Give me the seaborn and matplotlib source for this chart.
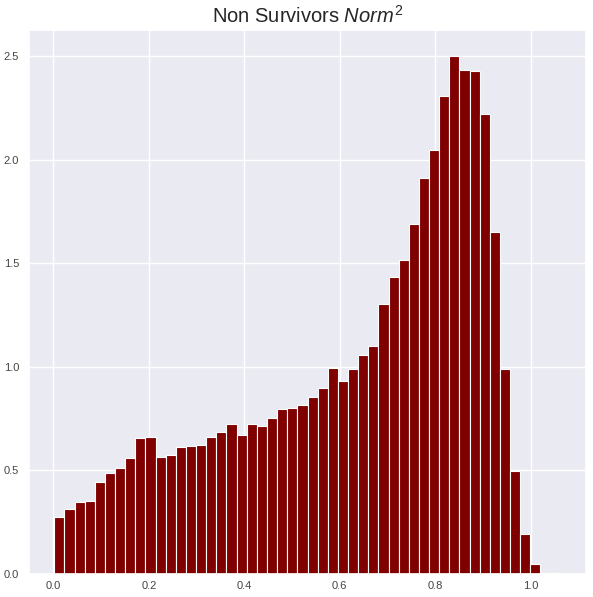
import numpy as np
import matplotlib
matplotlib.use("Agg")
import matplotlib.pyplot as plt
import seaborn as sns

# ── DATA (density per bin) ───────────────────────────────────────────────────
bin_lo, bin_hi = 0.002, 1.063
n_bins = 50
density = [
    0.273, 0.314, 0.346, 0.351, 0.442, 0.486, 0.510, 0.558, 0.659, 0.664,
    0.563, 0.573, 0.612, 0.617, 0.622, 0.664, 0.688, 0.722, 0.669, 0.722,
    0.714, 0.753, 0.795, 0.800, 0.815, 0.857, 0.897, 0.993, 0.932, 0.988,
    1.056, 1.100, 1.303, 1.432, 1.515, 1.690, 1.912, 2.047, 2.308, 2.502,
    2.434, 2.429, 2.220, 1.651, 0.988, 0.495, 0.192, 0.046, 0.005, 0.005,
]
title = "Non Survivors $Norm^2$"

# ── STYLE ────────────────────────────────────────────────────────────────────
sns.set_theme(style="darkgrid")
plt.rcParams["font.family"] = ["Liberation Sans", "DejaVu Sans"]
plt.rcParams["mathtext.fontset"] = "custom"
plt.rcParams["mathtext.rm"] = "Liberation Sans"
plt.rcParams["mathtext.it"] = "Liberation Sans:italic"

edges = np.linspace(bin_lo, bin_hi, n_bins + 1)
centers = (edges[:-1] + edges[1:]) / 2

fig, ax = plt.subplots(figsize=(5.93, 5.97), dpi=100)
fig.subplots_adjust(left=29 / 593, right=586 / 593,
                    bottom=(597 - 574) / 597, top=(597 - 30) / 597)

sns.histplot(x=centers, weights=density, bins=n_bins, binrange=(bin_lo, bin_hi),
             color="#800000", alpha=1, edgecolor="white", linewidth=0.8, ax=ax)

ax.set_ylabel("")
ax.set_xlabel("")
ax.set_title(title, fontsize=14.5, pad=5)
ax.tick_params(axis="both", labelsize=8, colors="#444444", length=0)
ax.tick_params(axis="x", pad=5)
ax.tick_params(axis="y", pad=7)

plt.savefig("out.png", dpi=100)
